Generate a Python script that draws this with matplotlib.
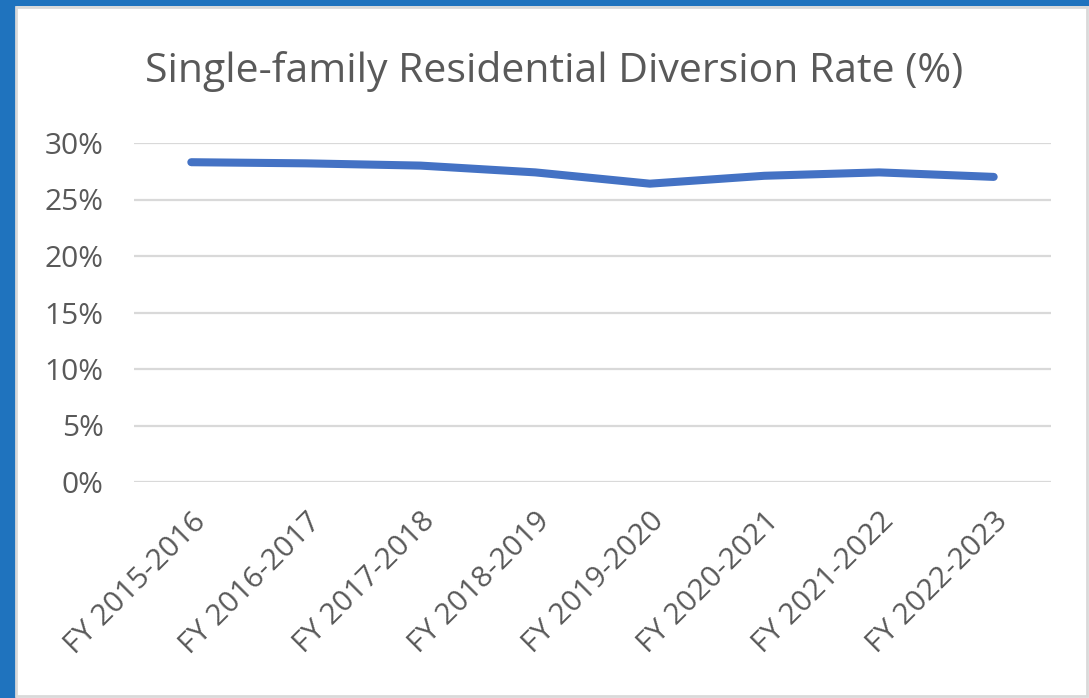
import matplotlib
matplotlib.use("Agg")
import matplotlib.pyplot as plt
from matplotlib.patches import Rectangle
from matplotlib.ticker import PercentFormatter

years = ["FY 2015-2016", "FY 2016-2017", "FY 2017-2018", "FY 2018-2019",
         "FY 2019-2020", "FY 2020-2021", "FY 2021-2022", "FY 2022-2023"]
rate = [0.283, 0.282, 0.280, 0.274, 0.264, 0.271, 0.274, 0.270]
yticks = [0, 0.05, 0.10, 0.15, 0.20, 0.25, 0.30]

text_grey = "#595959"
plt.rcParams['font.family'] = ['Open Sans', 'DejaVu Sans']

fig = plt.figure(figsize=(10.89, 6.98), dpi=100)

# blue frame round the chart area, like the screenshot
fig.patches.append(Rectangle((0, 0), 15/1089, 1, transform=fig.transFigure,
                             color="#1F73BE", zorder=-2))
fig.patches.append(Rectangle((0, 1-5/698), 1, 5/698, transform=fig.transFigure,
                             color="#1F73BE", zorder=-2))
fig.patches.append(Rectangle((16/1089, 2/698), 1-18/1089, 1-9/698,
                             transform=fig.transFigure, facecolor="white",
                             edgecolor="#D9D9D9", lw=2, zorder=-1))

ax = fig.add_axes([134/1089, 1-482/698, (1051-134)/1089, (482-143)/698])
ax.set_zorder(2)
x = list(range(len(years)))
ax.plot(x, rate, color="#4472C4", lw=5.8, solid_capstyle="round",
        solid_joinstyle="round", zorder=3)

ax.set_xlim(-0.5, len(years)-0.5)
ax.set_ylim(0, 0.30)
ax.set_yticks(yticks)
ax.yaxis.set_major_formatter(PercentFormatter(1.0, decimals=0))
ax.grid(axis="y", color="#D9D9D9", lw=1.6)
ax.set_axisbelow(True)
for s in ax.spines.values():
    s.set_visible(False)
ax.tick_params(axis="both", length=0, colors=text_grey, labelsize=21.5)
ax.tick_params(axis="y", pad=22)
ax.tick_params(axis="x", pad=18)
ax.set_xticks(x)
ax.set_xticklabels(years, rotation=45, ha="right", rotation_mode="anchor")
for lbl in ax.get_xticklabels():
    lbl.set_x(lbl.get_position()[0])
ax.patch.set_alpha(0)

fig.text(554/1089, 1-72/698, "Single-family Residential Diversion Rate (%)",
         ha="center", va="center", fontsize=29.5, color=text_grey)

fig.savefig("out.png", dpi=100)
